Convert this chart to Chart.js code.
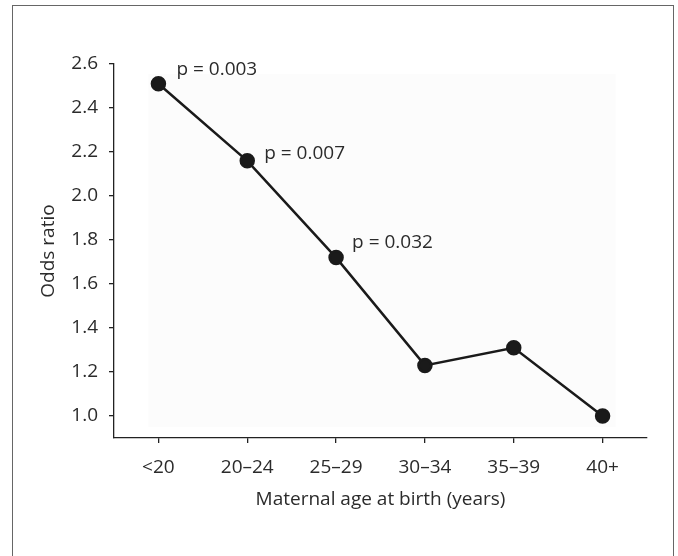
<!DOCTYPE html>
<html>
<head>
<meta charset="utf-8">
<script src="https://cdn.jsdelivr.net/npm/chart.js@4/dist/chart.umd.min.js"></script>
<style>
  body { margin: 0; background: #fff; }
  #frame { position: absolute; left: 12px; top: 5px; width: 660px; height: 600px; border: 1.5px solid #666; }
  #wrap { position: absolute; left: 0; top: 0; width: 678px; height: 556px; }
</style>
</head>
<body>
<div id="frame"></div>
<div id="wrap"><canvas id="oddsChart" width="678" height="556"></canvas></div>
<script>
// categorii si valori
const grupeVarsta = ['<20', '20–24', '25–29', '30–34', '35–39', '40+'];
const oddsRatio = [2.51, 2.16, 1.72, 1.23, 1.31, 1.0];
const etichetePValoare = ['p = 0.003', 'p = 0.007', 'p = 0.032', null, null, null];
const tickuriY = [1.0, 1.2, 1.4, 1.6, 1.8, 2.0, 2.2, 2.4, 2.6];

const font = { family: "'Open Sans', 'Noto Sans', sans-serif", size: 19 };
const culoareText = '#2b2b2b';

// fundal gri deschis in spatele liniei
const fundalPlugin = {
  id: 'fundal',
  beforeDatasetsDraw(chart) {
    const { ctx, scales: { x, y } } = chart;
    const st = x.getPixelForValue(0) - 10;
    const dr = x.getPixelForValue(5) + 13;
    const sus = y.getPixelForValue(2.555);
    const jos = y.getPixelForValue(0.95);
    ctx.save();
    ctx.fillStyle = '#fcfcfc';
    ctx.fillRect(st, sus, dr - st, jos - sus);
    ctx.restore();
  }
};

// etichete cu valorile p langa primele puncte
const offsets = [[18, -14], [17, -7], [16, -15]];
const pPlugin = {
  id: 'pValori',
  afterDatasetsDraw(chart) {
    const { ctx } = chart;
    const meta = chart.getDatasetMeta(0);
    ctx.save();
    ctx.font = font.size + 'px ' + font.family;
    ctx.fillStyle = culoareText;
    ctx.textBaseline = 'middle';
    ctx.textAlign = 'left';
    etichetePValoare.forEach((txt, i) => {
      if (!txt) return;
      const p = meta.data[i];
      ctx.fillText(txt, p.x + offsets[i][0], p.y + offsets[i][1]);
    });
    ctx.restore();
  }
};

const ctx = document.getElementById('oddsChart').getContext('2d');
new Chart(ctx, {
  type: 'line',
  data: {
    labels: grupeVarsta,
    datasets: [{
      label: 'Odds ratio',
      data: oddsRatio,
      borderColor: '#1a1a1a',
      backgroundColor: '#1a1a1a',
      borderWidth: 2.5,
      pointRadius: 6.5,
      pointHoverRadius: 6.5,
      tension: 0
    }]
  },
  options: {
    responsive: false,
    animation: false,
    events: [],
    layout: { padding: { left: 37, top: 64, right: 31, bottom: 45 } },
    plugins: {
      legend: { display: false },
      tooltip: { enabled: false }
    },
    scales: {
      x: {
        offset: true,
        grid: { drawOnChartArea: false, offset: false, tickLength: 5, color: '#222', lineWidth: 1.3 },
        border: { color: '#222', width: 1.3 },
        ticks: { color: culoareText, font: font, padding: 13, maxRotation: 0 },
        title: { display: true, text: 'Maternal age at birth (years)', color: culoareText, font: font, padding: { top: 8, bottom: 0 } },
        afterFit(scale) { scale.height = 73; }
      },
      y: {
        min: 0.9,
        max: 2.6,
        afterBuildTicks(scale) { scale.ticks = tickuriY.map(v => ({ value: v })); },
        grid: { drawOnChartArea: false, tickLength: 5, color: '#222', lineWidth: 1.3 },
        border: { color: '#222', width: 1.3 },
        ticks: {
          color: culoareText,
          font: font,
          padding: 11,
          callback: function(value) { return Number(value).toFixed(1); }
        },
        title: { display: true, text: 'Odds ratio', color: culoareText, font: font, padding: { top: 0, bottom: 8 } },
        afterFit(scale) { scale.width = 77; }
      }
    }
  },
  plugins: [fundalPlugin, pPlugin]
});
</script>
</body>
</html>
